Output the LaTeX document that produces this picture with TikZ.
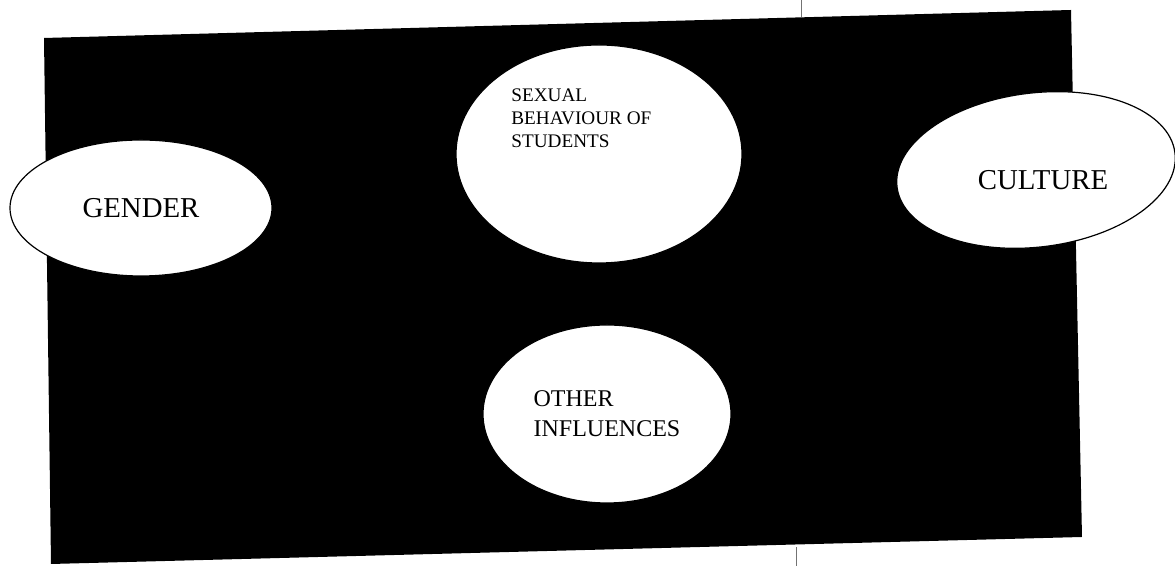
\documentclass[tikz,border=0pt]{standalone}
\usepackage{fontspec}
\setmainfont{Liberation Serif}
\usetikzlibrary{shapes.geometric}

\tikzset{
	bubble/.style={ellipse, draw=black, fill=white, line width=0.6pt, inner sep=0pt},
	foldmark/.style={draw=black!55, line width=0.4pt}
}

\begin{document}
\begin{tikzpicture}[x=0.5pt, y=0.5pt]
	\useasboundingbox (0,0) rectangle (1175,566);
	% the black panel, a little skewed on the page
	\fill [black] (44,528) -- (1071,556) -- (1082,29) -- (51,2) -- cycle;
	% fold marks of the page
	\draw [foldmark] (801,566) -- (801,549);
	\draw [foldmark] (796,0) -- (796,19);

	\node[bubble, minimum width=131pt, minimum height=68pt, font=\fontsize{14.4}{17}\selectfont] (gender) at (141,358) {GENDER};
	\node[bubble, minimum width=143pt, minimum height=109pt] (sexual) at (599,412) {};
	\node[anchor=north west, align=left, inner sep=0pt, font=\fontsize{9.6}{11.7}\selectfont] (sexualtext) at (511,478)
		{SEXUAL\\BEHAVIOUR OF\\STUDENTS};
	\node[bubble, rotate=7, minimum width=140pt, minimum height=77pt] (culture) at (1036,396) {};
	\node[font=\fontsize{14.4}{17}\selectfont] (culturetext) at (1043,386) {CULTURE};
	\node[bubble, minimum width=124pt, minimum height=89pt, align=left, font=\fontsize{12}{15}\selectfont] (other) at (607,152)
		{OTHER\\INFLUENCES};
\end{tikzpicture}
\end{document}
